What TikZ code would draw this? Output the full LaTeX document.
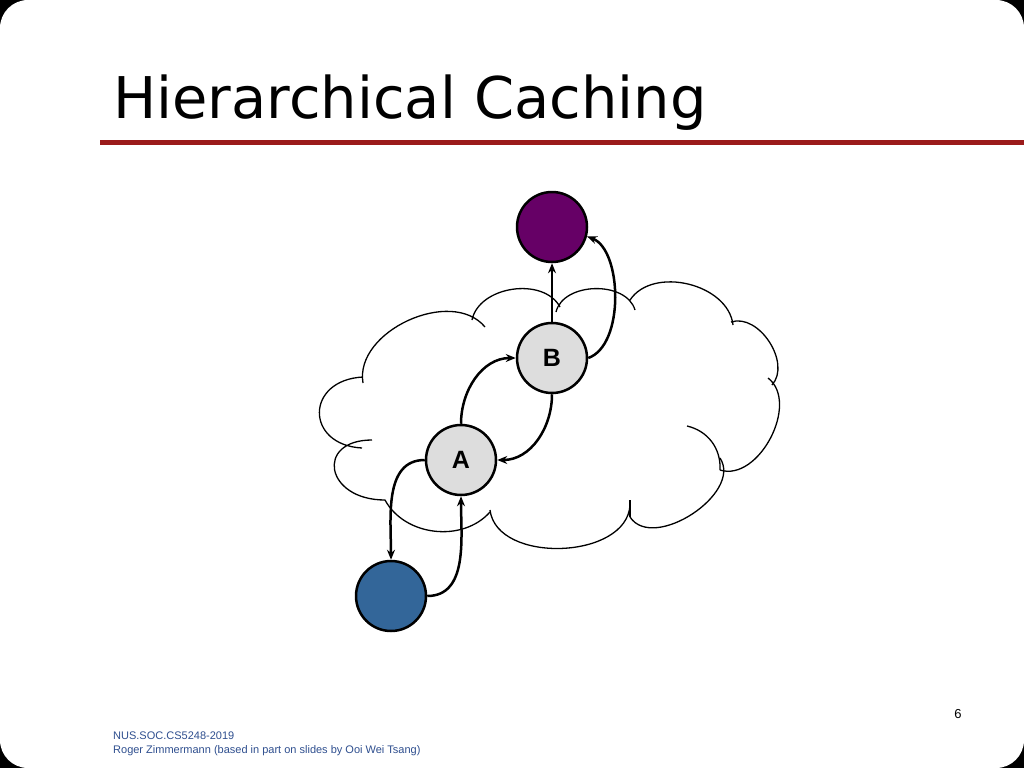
\documentclass[tikz,border=0pt]{standalone}
\usepackage{fontspec}
\setmainfont{DejaVu Sans}
\newfontfamily\arial{Liberation Sans}
\usetikzlibrary{arrows.meta}
\definecolor{titlered}{HTML}{9B1B1B}
\definecolor{purp}{HTML}{660066}
\definecolor{blu}{HTML}{336699}
\definecolor{nodegray}{HTML}{DDDDDD}
\definecolor{foot}{HTML}{2F4F8F}
\begin{document}
\begin{tikzpicture}[x=1pt,y=-1pt,
  circ/.style={circle,draw=black,line width=2.5pt,minimum size=70pt,inner sep=0pt},
  lettered/.style={circ,fill=nodegray,font=\arial\bfseries\fontsize{25}{25}\selectfont},
  conn/.style={line width=2.5pt,-{Stealth[length=10pt,width=8pt]}},
  cloudline/.style={line width=1.3pt}]
\useasboundingbox (0,0) rectangle (1024,768);
\fill[black] (0,0) rectangle (1024,768);
\fill[white,rounded corners=28pt] (0,0) rectangle (1024,768);
\node[anchor=base west,inner sep=0pt,font=\fontsize{57.5}{57.5}\selectfont] (title) at (113,118) {Hierarchical Caching};
\fill[titlered] (100,139.5) rectangle (1024,144.5);
% cloud
\draw[cloudline] (363,383) to[bend left=75] (485,327)
  (472,320) to[bend left=70] (560,307)
  (556,312) to[bend left=75] (635,310)
  (630,300) to[bend left=70] (733,325)
  (731,322) to[bend left=75] (772,385)
  (768,378) to[bend left=80] (720,470)
  (720,458) to[bend left=90] (630,517)
  (630,505) to[bend left=85] (490,510)
  (490,512) to[bend left=55] (385,500)
  (385,500) .. controls (325,500) and (315,440) .. (372,440)
  (362,448) .. controls (305,445) and (305,380) .. (363,377);
\draw[cloudline] (687,426) to[bend left=40] (720,470);
\draw[cloudline] (630,500) -- (630,517);
% nodes
\node[circ,fill=purp] (top) at (552,227) {};
\node[lettered] (B) at (552,358) {B};
\node[lettered] (A) at (461,460) {A};
\node[circ,fill=blu] (bot) at (391,596) {};
% connectors
\draw[conn] (B.north) -- (top.south);
\draw[conn] (B.east) .. controls (625,345) and (622,250) .. (top.-15);
\draw[conn] (A.north) to[out=90,in=180] (B.west);
\draw[conn] (B.south) to[out=-90,in=0] (A.east);
\draw[conn] (A.west) to[out=180,in=90] (bot.north);
\draw[conn] (bot.east) to[out=0,in=-90] (A.south);
% footer
\node[anchor=base,inner sep=0pt,font=\arial\fontsize{13}{13}\selectfont] (pg) at (958,718) {6};
\node[anchor=base west,inner sep=0pt,font=\arial\fontsize{11}{11}\selectfont,text=foot] (f1) at (113,739) {NUS.SOC.CS5248-2019};
\node[anchor=base west,inner sep=0pt,font=\arial\fontsize{11}{11}\selectfont,text=foot] (f2) at (113,753) {Roger Zimmermann (based in part on slides by Ooi Wei Tsang)};
\end{tikzpicture}
\end{document}
